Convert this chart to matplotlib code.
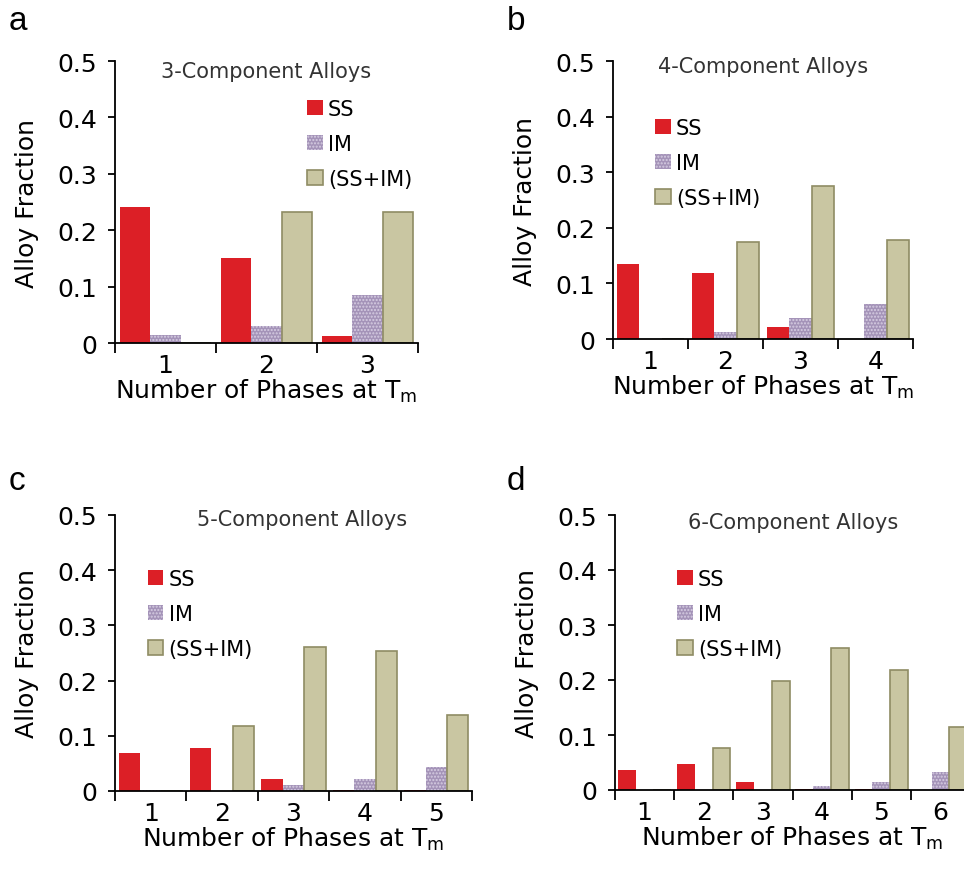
import numpy as np
import matplotlib
matplotlib.use('Agg')
import matplotlib.pyplot as plt

plt.rcParams['font.family'] = ['DejaVu Sans']
plt.rcParams['mathtext.fontset'] = 'dejavusans'
plt.rcParams['hatch.linewidth'] = 1.0

# data
titles = ['3-Component Alloys', '4-Component Alloys', '5-Component Alloys', '6-Component Alloys']
letters = ['a', 'b', 'c', 'd']

ss_a = [0.241, 0.151, 0.012]
im_a = [0.014, 0.030, 0.085]
ssim_a = [0.0, 0.232, 0.232]

ss_b = [0.135, 0.118, 0.022, 0.0]
im_b = [0.0, 0.012, 0.038, 0.063]
ssim_b = [0.0, 0.175, 0.275, 0.178]

ss_c = [0.069, 0.077, 0.021, 0.002, 0.002]
im_c = [0.001, 0.0, 0.010, 0.022, 0.043]
ssim_c = [0.0, 0.118, 0.260, 0.253, 0.138]

ss_d = [0.036, 0.047, 0.014, 0.002, 0.002, 0.0]
im_d = [0.0, 0.0, 0.0, 0.007, 0.014, 0.033]
ssim_d = [0.0, 0.077, 0.198, 0.258, 0.218, 0.114]

series = [(ss_a, im_a, ssim_a), (ss_b, im_b, ssim_b), (ss_c, im_c, ssim_c), (ss_d, im_d, ssim_d)]

# layout (pixels from the reference, converted to figure fractions)
W, H = 964, 879
boxes = [(115, 418, 62, 344), (613, 913, 62, 340), (115, 472, 516, 792), (615, 970, 516, 791)]
title_pos = [(0.5, 0.965), (0.5, 0.982), (0.524, 0.986), (0.501, 0.975)]
leg_pos = [(0.634, 0.865), (0.14, 0.795), (0.092, 0.805), (0.175, 0.805)]
letter_pos = [(9, 30), (507, 30), (9, 490), (507, 490)]

c_ss = '#dc1f26'
c_im = '#a493b8'
c_ssim = '#c9c6a2'

fig = plt.figure(figsize=(W / 100, H / 100), dpi=100)

for i in range(4):
    x0, x1, y0, y1 = boxes[i]
    ax = fig.add_axes([x0 / W, 1 - y1 / H, (x1 - x0) / W, (y1 - y0) / H])
    ss, im, ssim = series[i]
    n = len(ss)
    x = np.arange(1, n + 1)
    w = 0.3
    ax.bar(x - w, ss, w, color=c_ss, label='SS')
    ax.bar(x, im, w, color=c_im, edgecolor='#d6cde2', hatch='.....', linewidth=0, label='IM')
    ax.bar(x + w, ssim, w, color=c_ssim, edgecolor='#8f8c64', linewidth=1.2, label='(SS+IM)')

    ax.set_xlim(0.5, n + 0.5)
    ax.set_ylim(0, 0.5)
    ax.set_yticks([0, 0.1, 0.2, 0.3, 0.4, 0.5])
    ax.set_yticklabels(['0', '0.1', '0.2', '0.3', '0.4', '0.5'])
    ax.set_xticks(x)
    ax.set_xticklabels([str(k) for k in x])
    ax.set_xticks(np.arange(0.5, n + 1, 1.0), minor=True)
    ax.tick_params(axis='x', which='major', length=0, pad=7, labelsize=18)
    ax.tick_params(axis='x', which='minor', length=7, width=1.3, direction='out')
    ax.tick_params(axis='y', length=5, width=1.3, direction='out', pad=8, labelsize=18)
    for s in ['top', 'right']:
        ax.spines[s].set_visible(False)
    for s in ['left', 'bottom']:
        ax.spines[s].set_linewidth(1.3)

    ax.set_ylabel('Alloy Fraction', fontsize=18, labelpad=13)
    ax.set_xlabel(r'Number of Phases at T$_{\rm m}$', fontsize=18, labelpad=0)

    ax.text(title_pos[i][0], title_pos[i][1], titles[i], transform=ax.transAxes,
            ha='center', va='center', fontsize=15, color='#333333')
    ax.legend(loc='upper left', bbox_to_anchor=leg_pos[i], frameon=False, fontsize=15,
              borderpad=0, borderaxespad=0, handlelength=0.75, handleheight=0.75,
              handletextpad=0.25, labelspacing=0.72)

    lx, ly = letter_pos[i]
    fig.text(lx / W, 1 - ly / H, letters[i], fontsize=24, family='Liberation Sans', va='baseline')

fig.savefig('out.png', dpi=100)
